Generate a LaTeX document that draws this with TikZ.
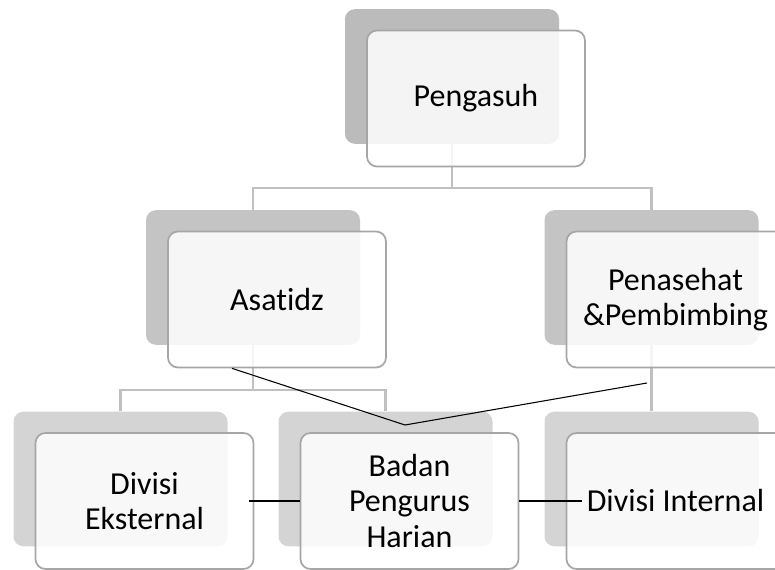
\documentclass[tikz,border=0pt]{standalone}
\usepackage{fontspec}
\setmainfont{Carlito}[RawFeature={-liga;-clig;-dlig}]
\definecolor{shadowA}{HTML}{BBBBBB}
\definecolor{shadowB}{HTML}{C4C4C4}
\definecolor{shadowC}{HTML}{D4D4D4}
\definecolor{boxborder}{HTML}{A6A6A6}
\definecolor{conngray}{HTML}{C0C0C0}
\begin{document}
\begin{tikzpicture}[x=0.75pt,y=-0.75pt,
  shadowbox/.style={draw=none, rounded corners=7.5pt, minimum width=160.5pt, minimum height=101pt, inner sep=0pt},
  frontbox/.style={draw=boxborder, line width=1.3pt, fill=white, fill opacity=0.85, text opacity=1,
    rounded corners=7.5pt, minimum width=163.5pt, minimum height=102pt, align=center,
    font=\fontsize{24}{26.3}\selectfont, inner sep=0pt},
  conn/.style={draw=conngray, line width=1.6pt},
  link/.style={draw=black, line width=0.8pt}]
\useasboundingbox (0,0) rectangle (775,570);
\clip (0,0) rectangle (775,570);
% shadows
\node[shadowbox, fill=shadowA] (s0) at (452,76.5) {};
\node[shadowbox, fill=shadowB] (s1) at (253,277.5) {};
\node[shadowbox, fill=shadowB] (s2) at (651.5,277.5) {};
\node[shadowbox, fill=shadowC] (s3) at (120.5,479) {};
\node[shadowbox, fill=shadowC] (s4) at (385.5,479) {};
\node[shadowbox, fill=shadowC] (s5) at (651.5,479) {};
% gray connectors
\coordinate (j0) at (452,188);
\coordinate (j1) at (253,390);
\draw[conn] (s0.south) -- (j0);
\draw[conn] (s1.north) |- (j0) -| (s2.north);
\draw[conn] (s1.south) -- (j1);
\draw[conn] (s3.north) |- (j1) -| (s4.north);
\draw[conn] (s2.south) -- (s5.north);
% front boxes
\node[frontbox] (pengasuh) at (476,98.5) {Pengasuh};
\node[frontbox] (asatidz) at (277,299.5) {Asatidz};
\node[frontbox] (penasehat) at (675.5,299.5) {Penasehat\\\&Pembimbing};
\node[frontbox] (ekst) at (144.5,501) {Divisi\\Eksternal};
\node[frontbox] (badan) at (409.5,501) {Badan\\Pengurus\\Harian};
\node[frontbox] (internal) at (675.5,501) {Divisi Internal};
% black links
\coordinate (meet) at (405,425);
\coordinate (p1) at (647,383);
\draw[link] ([xshift=-33.75pt]asatidz.south) -- (meet);
\draw[link] (p1) -- (meet);
\draw[link] ([xshift=-4pt]ekst.east) -- (badan.west);
\draw[link] (badan.east) -- ([xshift=-70pt]internal.center);
\end{tikzpicture}
\end{document}
